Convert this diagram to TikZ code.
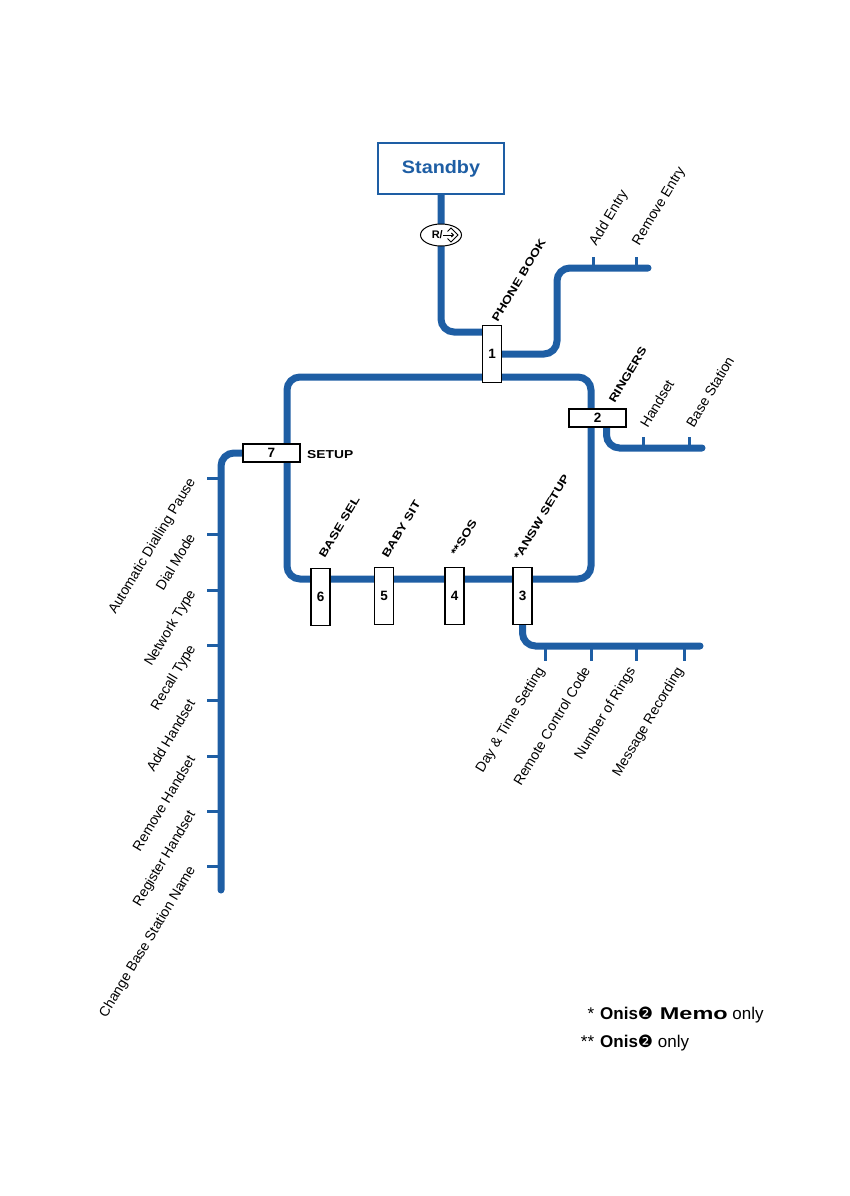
\documentclass[tikz,border=0pt]{standalone}
\usepackage{fontspec}
\setmainfont{Liberation Sans}
\newfontfamily\dingfont{DejaVu Sans}
\usetikzlibrary{shapes.geometric,backgrounds,arrows.meta}
\definecolor{menublue}{RGB}{30,94,164}
\newcommand\menutext[1]{\scalebox{1.25}[1]{#1}}

\begin{document}
\begin{tikzpicture}[x=1pt,y=-1pt,
    trunk/.style={draw=menublue,line width=7pt,rounded corners=13pt,line cap=round},
    twig/.style={draw=menublue,line width=3pt},
    keybox/.style={draw,line width=1.4pt,fill=white,inner sep=0pt,font=\fontsize{13.5}{13.5}\selectfont\bfseries},
    vkey/.style={keybox,minimum width=19pt,minimum height=57pt},
    hkey/.style={keybox,minimum width=57pt,minimum height=18pt},
    item/.style={font=\fontsize{14}{14}\selectfont,rotate=59,inner sep=0pt},
    menu/.style={font=\fontsize{11}{11}\selectfont\bfseries,rotate=59,anchor=south west,inner sep=0pt}]
\useasboundingbox (0,0) rectangle (850,1196);
% standby and the key to open the menu
\node[draw=menublue,line width=2pt,fill=white,minimum width=126pt,minimum height=51pt,
      text=menublue,font=\fontsize{18}{18}\selectfont\bfseries] (sby) at (441,168.5) {\scalebox{1.1}[1]{Standby}};
\node[ellipse,draw,line width=1pt,fill=white,minimum width=41pt,minimum height=22pt,inner sep=0pt] (rkey) at (441,235) {};
\node[font=\fontsize{11}{11}\selectfont\bfseries,anchor=east,inner sep=0pt] (rlab) at (443,235) {R/};
\draw[line width=0.9pt] (447.5,231.5) -- (451,228) -- (458,235) -- (451,242) -- (447.5,238.5);
\draw[line width=0.9pt,-{Straight Barb[length=2pt,width=4pt]}] (443,235) -- (454,235);
% menu keys
\node[vkey] (k1) at (492,354) {1};
\node[hkey] (k2) at (597.5,418) {2};
\node[vkey] (k3) at (522.5,596) {3};
\node[vkey] (k4) at (454.5,596) {4};
\node[vkey] (k5) at (384,596) {5};
\node[vkey] (k6) at (320.5,597) {6};
\node[hkey] (k7) at (271.5,453) {7};
% menu names
\node[menu] (mphone) at (498,323) {\menutext{PHONE BOOK}};
\node[menu] (mring) at (615,404) {\menutext{RINGERS}};
\node[menu] (mbase) at (325,559) {\menutext{BASE SEL}};
\node[menu] (mbaby) at (388,559) {\menutext{BABY SIT}};
\node[menu] (msos) at (457,557) {\menutext{**SOS}};
\node[menu] (mansw) at (520,561) {\menutext{*ANSW SETUP}};
\node[font=\fontsize{11.5}{11.5}\selectfont\bfseries,anchor=west,inner sep=0pt] (mset) at (307,455) {\scalebox{1.2}[1]{SETUP}};
% free ends of the branches
\coordinate (loopNW) at (287,377);
\coordinate (loopSE) at (591,579);
\coordinate (pbin) at (483,332);
\coordinate (pbend) at (648,268);
\coordinate (rgend) at (702,448);
\coordinate (anend) at (700,646);
\coordinate (stend) at (221,890);
\begin{scope}[on background layer]
    \draw[trunk] (loopNW) rectangle (loopSE);
    \draw[trunk] (sby.south) |- (pbin);
    \draw[trunk] (k1.east) -| (557,268) -- (pbend);
    \draw[trunk] ([xshift=9pt]k2.south) |- (rgend);
    \draw[trunk] (k3.south) |- (anend);
    \draw[trunk] (k7.west) -| (stend);
\end{scope}
% sub menus
\foreach \x/\txt [count=\i] in {593/Add Entry,636/Remove Entry}
    {
        \draw[twig] (\x,268) -- (\x,257);
        \node[item,anchor=south west] (pb\i) at (\x+6,248) {\txt};
    }
\foreach \x/\txt [count=\i] in {643/Handset,689/Base Station}
    {
        \draw[twig] (\x,448) -- (\x,437);
        \node[item,anchor=south west] (rg\i) at (\x+5,429) {\txt};
    }
\foreach \x/\txt [count=\i] in {545/Day \& Time Setting,591/Remote Control Code,636/Number of Rings,684/Message Recording}
    {
        \draw[twig] (\x,646) -- (\x,661);
        \node[item,anchor=north east] (an\i) at (\x-9,665) {\txt};
    }
\foreach \y/\txt [count=\i] in {478/Automatic Dialling Pause,534/Dial Mode,590/Network Type,645/Recall Type,
                                700/Add Handset,756/Remove Handset,811/Register Handset,866/Change Base Station Name}
    {
        \draw[twig] (221,\y) -- (207,\y);
        \node[item,anchor=north east] (st\i) at (187,\y-2) {\txt};
    }
% notes
\node[anchor=west,font=\fontsize{17}{17}\selectfont,inner sep=0pt] (note1) at (579,1015)
    {\makebox[15pt][r]{*}\hspace{6pt}\textbf{Onis{\dingfont\mdseries ❷}\hspace{2pt} \scalebox{1.38}[1]{Memo}} only};
\node[anchor=west,font=\fontsize{17}{17}\selectfont,inner sep=0pt] (note2) at (579,1043)
    {\makebox[15pt][r]{**}\hspace{6pt}\textbf{Onis{\dingfont\mdseries ❷}} only};
\end{tikzpicture}
\end{document}
